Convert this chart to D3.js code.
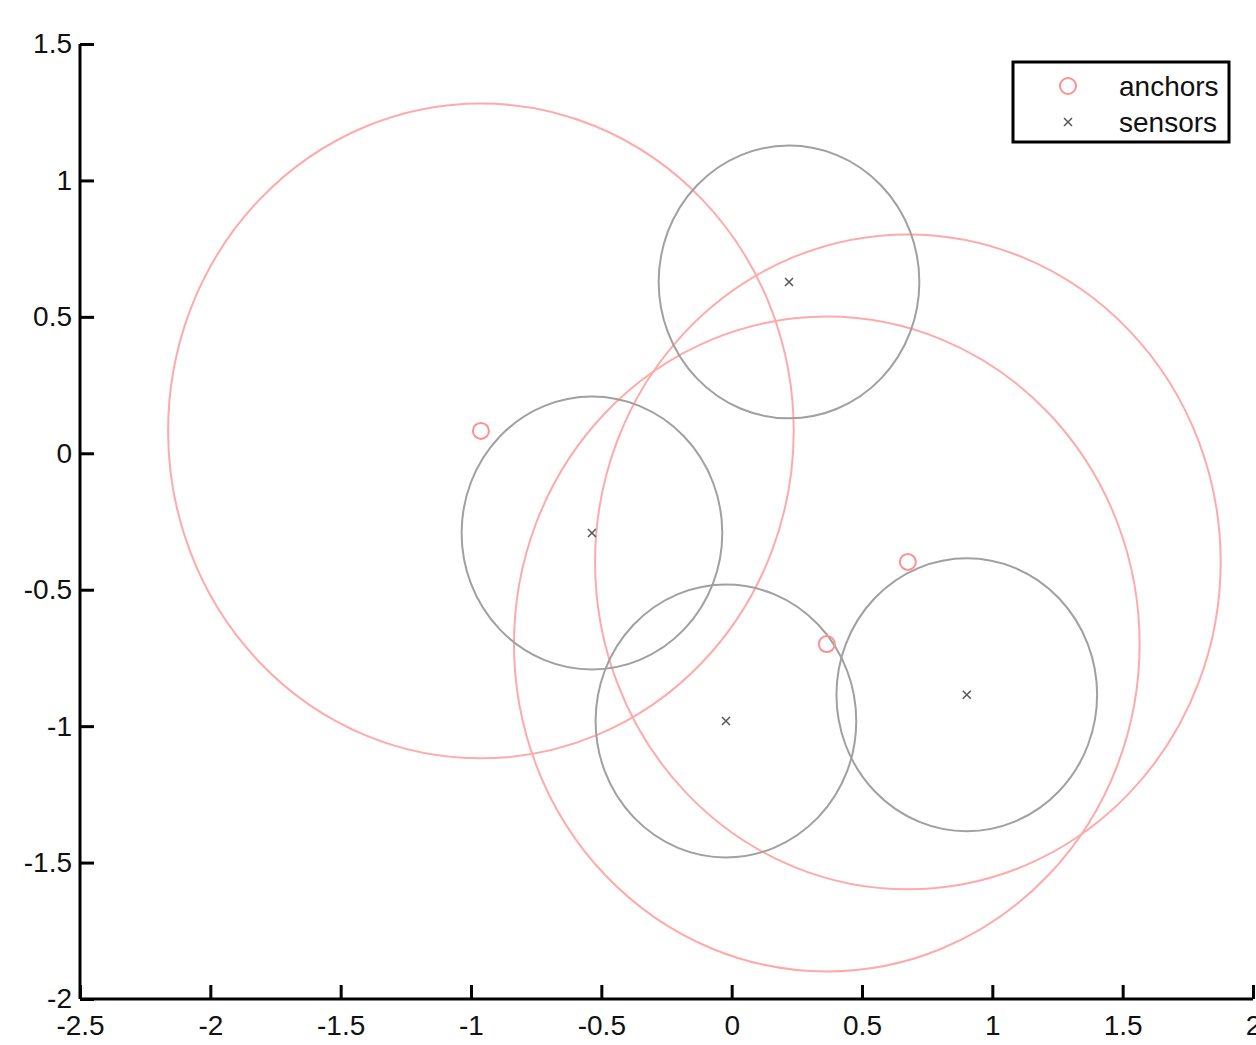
<!DOCTYPE html>
<html>
<head>
<meta charset="utf-8">
<script src="https://cdn.jsdelivr.net/npm/d3@7"></script>
<style>
  body { margin: 0; background: #fff; }
  svg text { font-family: "Liberation Sans", Arial, sans-serif; }
</style>
</head>
<body>
<div id="chart"></div>
<script>
// anchors: positions and range radius
const anchorX = [-0.962, 0.365, 0.676];
const anchorY = [0.082, -0.699, -0.398];
const anchorR = [1.2, 1.2, 1.2];

// sensors: positions and range radius
const sensorX = [0.220, -0.536, -0.022, 0.902];
const sensorY = [0.628, -0.292, -0.981, -0.885];
const sensorR = [0.5, 0.5, 0.5, 0.5];

const xTicks = [-2.5, -2, -1.5, -1, -0.5, 0, 0.5, 1, 1.5, 2];
const yTicks = [-2, -1.5, -1, -0.5, 0, 0.5, 1, 1.5];
const legendLabels = ["anchors", "sensors"];

const width = 1256, height = 1045;
const margin = {left: 80, right: 3, top: 44, bottom: 46};

const svg = d3.select("#chart").append("svg")
  .attr("width", width)
  .attr("height", height);

const x = d3.scaleLinear().domain([-2.5, 2]).range([margin.left, width - margin.right]);
const y = d3.scaleLinear().domain([-2, 1.5]).range([height - margin.bottom, margin.top]);

// px per data unit (axes are not equal, so circles become ellipses)
const kx = x(1) - x(0), ky = y(0) - y(1);

const plot = svg.append("g");

function rangeCircles(cls, xs, ys, rs, color) {
  plot.selectAll("ellipse." + cls)
    .data(xs.map((d, i) => ({x: d, y: ys[i], r: rs[i]})))
    .enter().append("ellipse")
    .attr("class", cls)
    .attr("cx", d => x(d.x))
    .attr("cy", d => y(d.y))
    .attr("rx", d => d.r * kx)
    .attr("ry", d => d.r * ky)
    .attr("fill", "none")
    .attr("stroke", color)
    .attr("stroke-width", 2);
}

rangeCircles("anchor-range", anchorX, anchorY, anchorR, "#ffaaaa");
rangeCircles("sensor-range", sensorX, sensorY, sensorR, "#a0a0a0");

// markers
plot.selectAll("circle.anchor")
  .data(anchorX.map((d, i) => [d, anchorY[i]]))
  .enter().append("circle")
  .attr("class", "anchor")
  .attr("cx", d => x(d[0]))
  .attr("cy", d => y(d[1]))
  .attr("r", 8)
  .attr("fill", "none")
  .attr("stroke", "#ff9090")
  .attr("stroke-width", 2);

function crossPath(cx, cy, s) {
  return `M${cx - s},${cy - s}L${cx + s},${cy + s}M${cx - s},${cy + s}L${cx + s},${cy - s}`;
}

plot.selectAll("path.sensor")
  .data(sensorX.map((d, i) => [d, sensorY[i]]))
  .enter().append("path")
  .attr("class", "sensor")
  .attr("d", d => crossPath(x(d[0]), y(d[1]), 4))
  .attr("stroke", "#555")
  .attr("stroke-width", 1.5)
  .attr("fill", "none");

// axes
const xAxis = d3.axisBottom(x).tickValues(xTicks).tickSize(-14).tickFormat(d => String(d));
const yAxis = d3.axisLeft(y).tickValues(yTicks).tickSize(-14).tickFormat(d => String(d));

const gx = svg.append("g")
  .attr("transform", `translate(0,${y(-2)})`)
  .call(xAxis);
const gy = svg.append("g")
  .attr("transform", `translate(${x(-2.5)},0)`)
  .call(yAxis);

[gx, gy].forEach(g => {
  g.select(".domain").attr("stroke", "#000").attr("stroke-width", 3);
  g.selectAll(".tick line").attr("stroke", "#000").attr("stroke-width", 3);
  g.selectAll(".tick text").attr("fill", "#111").attr("font-size", 28)
    .attr("font-family", "'Liberation Sans', Arial, sans-serif");
});
gx.select(".domain").attr("d", `M${x(-2.5)},0H${x(2)}`);
gy.select(".domain").attr("d", `M0,${y(-2)}V${y(1.5)}`);
gx.selectAll(".tick text").attr("dy", "0.35em").attr("y", 26);
gy.selectAll(".tick text").attr("x", -8);

// legend
const legend = svg.append("g").attr("transform", "translate(1013,62)");
legend.append("rect")
  .attr("width", 216).attr("height", 80)
  .attr("fill", "#fff").attr("stroke", "#000").attr("stroke-width", 3);

const ly = d3.scalePoint().domain(legendLabels).range([24, 60]);
legend.selectAll("text")
  .data(legendLabels)
  .enter().append("text")
  .attr("x", 106)
  .attr("y", d => ly(d))
  .attr("dy", "0.35em")
  .attr("font-size", 28)
  .attr("fill", "#111")
  .text(d => d);

legend.append("circle")
  .attr("cx", 55).attr("cy", ly("anchors"))
  .attr("r", 8).attr("fill", "none")
  .attr("stroke", "#ff9090").attr("stroke-width", 2);
legend.append("path")
  .attr("d", crossPath(55, ly("sensors"), 4))
  .attr("stroke", "#555").attr("stroke-width", 1.5);
</script>
</body>
</html>
